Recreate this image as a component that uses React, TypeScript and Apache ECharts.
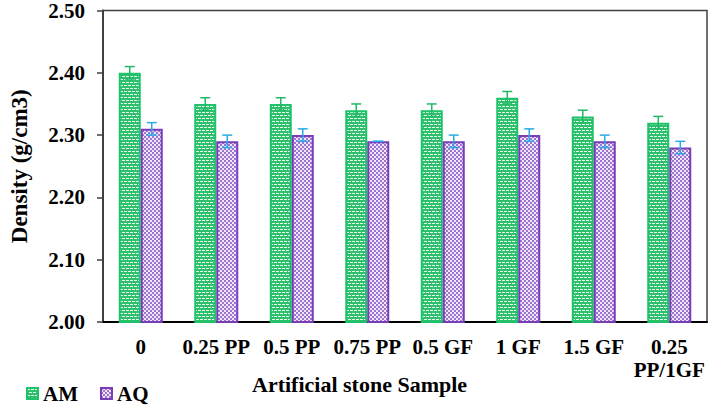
import React, { useEffect, useRef } from "react";
import * as echarts from "echarts";

const categories = ["0", "0.25 PP", "0.5 PP", "0.75 PP", "0.5 GF", "1 GF", "1.5 GF", "0.25\nPP/1GF"];
const amValues = [2.40, 2.35, 2.35, 2.34, 2.34, 2.36, 2.33, 2.32];
const aqValues = [2.31, 2.29, 2.30, 2.29, 2.29, 2.30, 2.29, 2.28];
const amErrors = [0.01, 0.01, 0.01, 0.01, 0.01, 0.01, 0.01, 0.01];
const aqErrors = [0.01, 0.01, 0.01, 0.0, 0.01, 0.01, 0.01, 0.01];
const yTicks = { min: 2.0, max: 2.5, interval: 0.1 };

const FONT = "'Liberation Serif', 'Times New Roman', serif";
const BAR_W = 22;

function makeAmPattern(): HTMLCanvasElement {
  const c = document.createElement("canvas");
  c.width = 8;
  c.height = 6;
  const g = c.getContext("2d")!;
  g.fillStyle = "#2fc06e";
  g.fillRect(0, 0, 8, 6);
  g.fillStyle = "#eafaf0";
  g.fillRect(0, 1, 3, 1);
  g.fillRect(4, 1, 3, 1);
  g.fillRect(2, 4, 3, 1);
  g.fillRect(6, 4, 2, 1);
  g.fillRect(0, 4, 1, 1);
  return c;
}

function makeAqPattern(): HTMLCanvasElement {
  const c = document.createElement("canvas");
  c.width = 4;
  c.height = 4;
  const g = c.getContext("2d")!;
  g.fillStyle = "#efe6f8";
  g.fillRect(0, 0, 4, 4);
  g.fillStyle = "#9d74d0";
  g.fillRect(0, 0, 2, 2);
  g.fillRect(2, 2, 2, 2);
  return c;
}

function errorSeries(name: string, values: number[], errors: number[], offset: number, color: string) {
  return {
    type: "custom",
    name,
    z: 10,
    data: values.map((v, i) => [i, v - errors[i], v + errors[i]]),
    encode: { x: 0, y: [1, 2] },
    renderItem: (params: any, api: any) => {
      const idx = api.value(0);
      const lo = api.coord([idx, api.value(1)]);
      const hi = api.coord([idx, api.value(2)]);
      const x = lo[0] + offset;
      const half = 5;
      const style = { stroke: color, lineWidth: 1.5 };
      return {
        type: "group",
        children: [
          { type: "line", shape: { x1: x, y1: lo[1], x2: x, y2: hi[1] }, style },
          { type: "line", shape: { x1: x - half, y1: hi[1], x2: x + half, y2: hi[1] }, style },
          { type: "line", shape: { x1: x - half, y1: lo[1], x2: x + half, y2: lo[1] }, style },
        ],
      };
    },
  };
}

export default function App() {
  const ref = useRef<HTMLDivElement>(null);
  useEffect(() => {
    document.body.style.margin = "0";
    const chart = echarts.init(ref.current!, null, { renderer: "svg" });
    const amColor = { image: makeAmPattern(), repeat: "repeat" };
    const aqColor = { image: makeAqPattern(), repeat: "repeat" };
    chart.setOption({
      animation: false,
      backgroundColor: "#ffffff",
      textStyle: { fontFamily: FONT },
      grid: {
        left: 90,
        right: 2,
        top: 9,
        bottom: 83,
        show: true,
        borderColor: "#404040",
        borderWidth: 1.5,
        containLabel: false,
      },
      legend: {
        data: ["AM", "AQ"],
        left: 26,
        top: 383,
        padding: 0,
        icon: "rect",
        itemWidth: 11,
        itemHeight: 11,
        itemGap: 22,
        textStyle: { fontFamily: FONT, fontWeight: "bold", fontSize: 21, lineHeight: 21, color: "#000" },
      },
      xAxis: {
        type: "category",
        data: categories,
        axisLine: { lineStyle: { color: "#000", width: 2 } },
        axisTick: { show: false },
        axisLabel: {
          interval: 0,
          margin: 13,
          fontFamily: FONT,
          fontWeight: "bold",
          fontSize: 21,
          lineHeight: 23,
          color: "#000",
        },
      },
      yAxis: {
        type: "value",
        min: yTicks.min,
        max: yTicks.max,
        interval: yTicks.interval,
        name: "Density (g/cm3)",
        nameLocation: "middle",
        nameGap: 72,
        nameTextStyle: { fontFamily: FONT, fontWeight: "bold", fontSize: 23, color: "#000" },
        axisLine: { show: true, lineStyle: { color: "#404040", width: 2 } },
        axisTick: { show: true, length: 6, lineStyle: { color: "#404040", width: 1.5 } },
        splitLine: { show: false },
        axisLabel: {
          margin: 18,
          fontFamily: FONT,
          fontWeight: "bold",
          fontSize: 21,
          color: "#000",
          formatter: (v: number) => v.toFixed(2),
        },
      },
      graphic: [
        {
          type: "text",
          left: 252,
          top: 373,
          style: {
            text: "Artificial stone Sample",
            font: `bold 22px ${FONT}`,
            fill: "#000",
          },
        },
      ],
      series: [
        {
          type: "bar",
          name: "AM",
          data: amValues,
          barWidth: BAR_W,
          barGap: "0%",
          itemStyle: { color: amColor, borderColor: "#1ec26a", borderWidth: 2 },
        },
        {
          type: "bar",
          name: "AQ",
          data: aqValues,
          barWidth: BAR_W,
          barGap: "0%",
          itemStyle: { color: aqColor, borderColor: "#7a3db8", borderWidth: 2 },
        },
        errorSeries("AM err", amValues, amErrors, -BAR_W / 2, "#22b866"),
        errorSeries("AQ err", aqValues, aqErrors, BAR_W / 2, "#2aaae8"),
      ],
    });
    return () => chart.dispose();
  }, []);
  return (
    <div
      ref={ref}
      style={{ position: "absolute", left: 0, top: 0, width: 709, height: 405 }}
    />
  );
}
